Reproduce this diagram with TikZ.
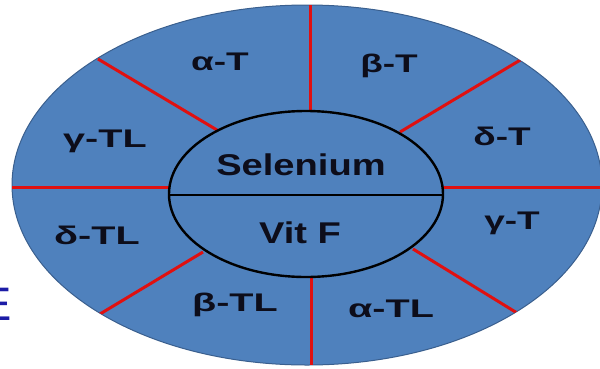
\documentclass[tikz,border=0pt]{standalone}
\usepackage{fontspec}
\setmainfont{Liberation Sans}
\definecolor{cellblue}{HTML}{4F81BD}
\definecolor{rimblue}{HTML}{3A5F8E}
\definecolor{spokered}{HTML}{E01010}
\definecolor{inkdark}{HTML}{0D0D1A}
\definecolor{linkblue}{HTML}{1C1CA6}
\tikzset{
  spoke/.style={draw=spokered, line width=3pt},
  rim/.style={draw=black, line width=2.4pt},
  lab/.style={text=inkdark, font=\fontsize{25.5}{26}\selectfont\bfseries, inner sep=0pt, anchor=base, xscale=1.45},
  lablong/.style={lab, xscale=1.07},
  corelab/.style={text=inkdark, font=\fontsize{30}{31}\selectfont\bfseries, inner sep=0pt, anchor=base, xscale=1.27},
}
\begin{document}
\begin{tikzpicture}[x=1pt, y=-1pt]
\useasboundingbox (0,0) rectangle (600,368);
\clip (0,0) rectangle (600,368);
% outer disc
\filldraw[fill=cellblue, draw=rimblue, line width=1pt] (307,185) ellipse [x radius=295, y radius=180];
% spoke end points
\coordinate (o1) at (310,0);   \coordinate (i1) at (310,112);
\coordinate (o2) at (522,59);  \coordinate (i2) at (400,132);
\coordinate (o3) at (605,187); \coordinate (i3) at (442,187);
\coordinate (o4) at (522,316); \coordinate (i4) at (413,249);
\coordinate (o5) at (311,368); \coordinate (i5) at (311,276);
\coordinate (o6) at (100,314); \coordinate (i6) at (203,252);
\coordinate (o7) at (12,187);  \coordinate (i7) at (170,187);
\coordinate (o8) at (98,59);   \coordinate (i8) at (217,130);
\begin{scope}
\clip (307,185) ellipse [x radius=295, y radius=180];
\foreach \k in {1,...,8} \draw[spoke] (o\k) -- (i\k);
\end{scope}
% inner ellipse
\filldraw[fill=cellblue, rim] (306,194) ellipse [x radius=137, y radius=83];
\coordinate (hl) at (169,195); \coordinate (hr) at (443,195);
\draw[rim] (hl) -- (hr);
% labels
\node[lab] (aT) at (220,70) {α-T};
\node[lab] (bT) at (389,72) {β-T};
\node[lab] (dT) at (502,145) {δ-T};
\node[lab] (gT) at (512,229) {γ-T};
\node[lablong] (aTL) at (391,317) {α-TL};
\node[lablong] (bTL) at (235,311) {β-TL};
\node[lablong] (dTL) at (97,244) {δ-TL};
\node[lablong] (gTL) at (105,147) {γ-TL};
\node[corelab] (se) at (301,175) {Selenium};
\node[corelab] (vf) at (300,243) {Vit F};
% cut-off letter at left
\node[text=linkblue, font=\fontsize{47}{48}\selectfont, inner sep=0pt, anchor=base east] (e) at (12,320) {E};
\end{tikzpicture}
\end{document}
